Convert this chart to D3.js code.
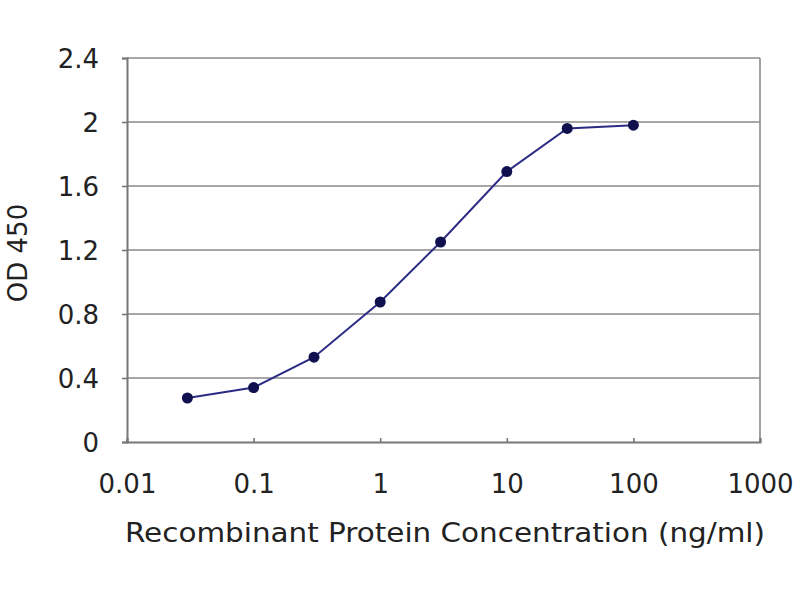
<!DOCTYPE html>
<html>
<head>
<meta charset="utf-8">
<script src="https://cdn.jsdelivr.net/npm/d3@7"></script>
<style>
  body { margin: 0; background: #fff; }
  text { font-family: "DejaVu Sans", sans-serif; fill: #222; }
</style>
</head>
<body>
<div id="main"></div>
<script>
// concentration (ng/ml) and OD 450
const concentrations = [0.03, 0.1, 0.3, 1, 3, 10, 30, 100];
const odValues = [0.275, 0.34, 0.53, 0.875, 1.25, 1.69, 1.96, 1.98];
const xTicks = [0.01, 0.1, 1, 10, 100, 1000];
const xTickLabels = ['0.01', '0.1', '1', '10', '100', '1000'];
const yTicks = [0, 0.4, 0.8, 1.2, 1.6, 2, 2.4];
const yTickLabels = ['0', '0.4', '0.8', '1.2', '1.6', '2', '2.4'];

function chart() {
  let width = 800;
  let height = 600;
  let left = 127, right = 760, top = 58, bottom = 442;

  let svg = d3.select('#main').append('svg')
    .attr('width', width).attr('height', height);

  let x = d3.scaleLog().domain([0.01, 1000]).range([left, right]);
  let y = d3.scaleLinear().domain([0, 2.4]).range([bottom, top]);

  // grid lines
  svg.append('g').selectAll('line')
    .data(yTicks.filter(d => d > 0))
    .join('line')
    .attr('x1', left).attr('x2', right)
    .attr('y1', d => y(d)).attr('y2', d => y(d))
    .attr('stroke', '#8a8a8a').attr('stroke-width', 1.6);

  // right border
  svg.append('line')
    .attr('x1', right).attr('x2', right).attr('y1', top).attr('y2', bottom)
    .attr('stroke', '#8a8a8a').attr('stroke-width', 1.6);

  // y axis
  let yAxis = d3.axisLeft(y).tickValues(yTicks)
    .tickFormat((d, i) => yTickLabels[i]).tickSize(5).tickPadding(26);
  let gy = svg.append('g').attr('transform', `translate(${left},0)`).call(yAxis);
  gy.select('.domain').attr('stroke', '#777').attr('stroke-width', 2);
  gy.selectAll('.tick line').attr('stroke', '#777').attr('stroke-width', 1.6);
  gy.selectAll('.tick text').style('font-size', '26px').attr('fill', '#222')
    .attr('dy', '0.36em').attr('x', -28);

  // x axis
  let xAxis = d3.axisBottom(x).tickValues(xTicks)
    .tickFormat((d, i) => xTickLabels[i]).tickSize(-4).tickPadding(30);
  let gx = svg.append('g').attr('transform', `translate(0,${bottom})`).call(xAxis);
  gx.select('.domain').attr('stroke', '#777').attr('stroke-width', 2);
  gx.selectAll('.tick line').attr('stroke', '#777').attr('stroke-width', 1.6);
  gx.selectAll('.tick text').style('font-size', '26px').attr('fill', '#222')
    .attr('y', 0).attr('dy', 0).attr('transform', 'translate(0,51)');

  // axis titles
  svg.append('text')
    .attr('x', 445).attr('y', 542)
    .attr('text-anchor', 'middle')
    .attr('textLength', 640).attr('lengthAdjust', 'spacingAndGlyphs')
    .style('font-size', '26px')
    .text('Recombinant Protein Concentration (ng/ml)');

  svg.append('text')
    .attr('transform', 'translate(27,253) rotate(-90)')
    .attr('text-anchor', 'middle')
    .style('font-size', '26px')
    .text('OD 450');

  // series
  let pts = concentrations.map((c, i) => [c, odValues[i]]);
  svg.append('path')
    .datum(pts)
    .attr('d', d3.line().x(d => x(d[0])).y(d => y(d[1])))
    .attr('fill', 'none').attr('stroke', '#2c2c86').attr('stroke-width', 2);

  svg.append('g').selectAll('circle')
    .data(pts)
    .join('circle')
    .attr('cx', d => x(d[0])).attr('cy', d => y(d[1]))
    .attr('r', 5.5).attr('fill', '#10104f');
}
chart();
</script>
</body>
</html>
